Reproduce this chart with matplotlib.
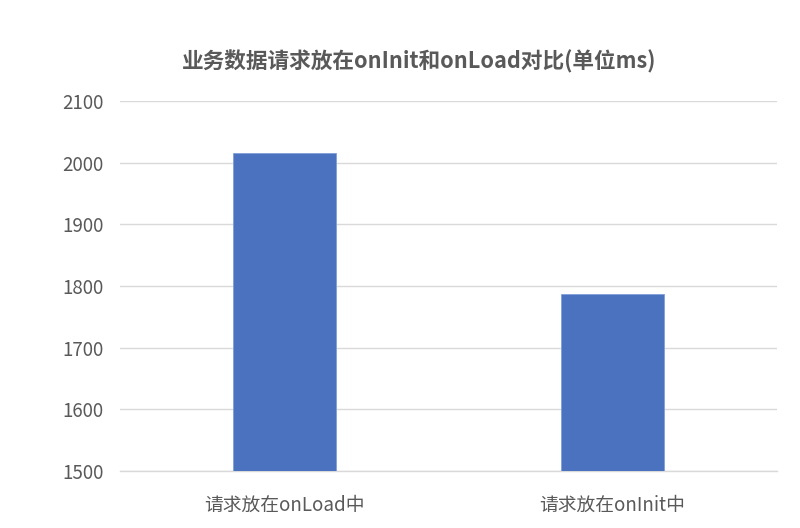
import matplotlib
matplotlib.use("Agg")
import matplotlib.pyplot as plt

plt.rcParams['font.family'] = ['Noto Sans CJK SC', 'DejaVu Sans']

categories = ['请求放在onLoad中', '请求放在onInit中']
values = [2015, 1787]
yticks = [1500, 1600, 1700, 1800, 1900, 2000, 2100]
title = '业务数据请求放在onInit和onLoad对比(单位ms)'

text_color = '#595959'
bar_color = '#4A72BE'
grid_color = '#D9D9D9'

fig = plt.figure(figsize=(8, 5.28), dpi=100)
ax = fig.add_axes([0.15, 0.108, 0.821, 0.7007])

x = range(len(categories))
ax.bar(x, values, width=0.313, color=bar_color, edgecolor='#7FA0DA', linewidth=0.6, zorder=3)

ax.set_xlim(-0.5, len(categories) - 0.5)
ax.set_ylim(yticks[0], yticks[-1])
ax.set_yticks(yticks)
ax.set_yticklabels([str(t) for t in yticks], fontsize=13.5, color=text_color, fontweight='medium')
ax.set_xticks(list(x))
ax.set_xticklabels(categories, fontsize=13.5, color=text_color, fontweight='medium')

ax.yaxis.grid(True, color=grid_color, linewidth=1.0, zorder=0)
ax.tick_params(axis='y', length=0, pad=12)
ax.tick_params(axis='x', length=0, pad=17)
for s in ['top', 'right', 'left']:
    ax.spines[s].set_visible(False)
ax.spines['bottom'].set_color(grid_color)
ax.spines['bottom'].set_linewidth(1.0)

fig.text(419 / 800, 1 - 62 / 528, title, ha='center', va='center',
         fontsize=15.6, fontweight='bold', color=text_color)

fig.savefig('out.png', dpi=100, facecolor='white')
